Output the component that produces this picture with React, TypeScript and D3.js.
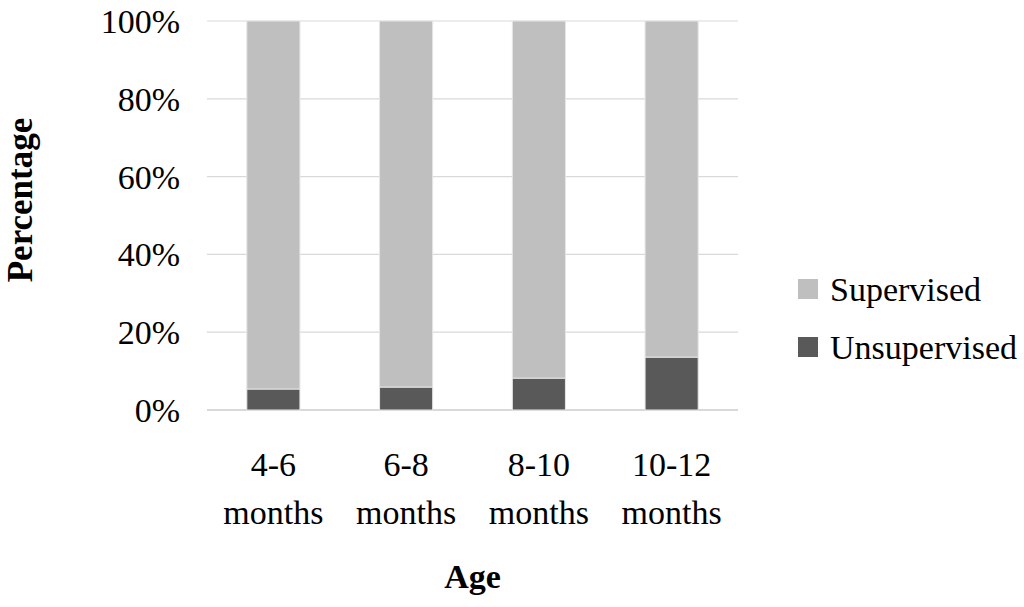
import React from "react";
import * as d3 from "d3";

const ageGroups = ["4-6 months", "6-8 months", "8-10 months", "10-12 months"];
const unsupervised = [5.4, 5.9, 8.2, 13.6];
const supervised = unsupervised.map((u) => 100 - u);
const yTicks = [0, 20, 40, 60, 80, 100];
const seriesNames = ["Supervised", "Unsupervised"];

const colors: Record<string, string> = {
  Supervised: "#bfbfbf",
  Unsupervised: "#595959",
};

const width = 1024;
const height = 607;
const margin = { top: 21, right: 286, bottom: 197, left: 207 };

export default function App() {
  const w = width - margin.left - margin.right;
  const h = height - margin.top - margin.bottom;

  const x = d3.scaleBand<string>().domain(ageGroups).range([0, w]).paddingInner(0.6).paddingOuter(0.3);
  const y = d3.scaleLinear().domain([0, 100]).range([h, 0]);

  const rows = ageGroups.map((g, i) => ({
    group: g,
    Unsupervised: unsupervised[i],
    Supervised: supervised[i],
  }));
  // unsupervised at the bottom, supervised stacked above
  const stack = d3.stack<any>().keys(["Unsupervised", "Supervised"])(rows);

  const font = "'Liberation Serif', 'Times New Roman', serif";

  return (
    <svg
      width={width}
      height={height}
      style={{ position: "absolute", left: 0, top: 0, background: "#fff", fontFamily: font }}
    >
      <g transform={`translate(${margin.left},${margin.top})`}>
        {yTicks.map((t) => (
          <g key={t}>
            <line x1={0} x2={w} y1={y(t)} y2={y(t)} stroke="#d9d9d9" strokeWidth={t === 0 ? 2 : 1.2} />
            <text x={-27} y={y(t)} dy="0.35em" textAnchor="end" fontSize={34} fill="#000">
              {t}%
            </text>
          </g>
        ))}
        {stack.map((layer) => (
          <g key={layer.key} fill={colors[layer.key]}>
            {layer.map((d, i) => (
              <rect
                key={i}
                x={x(ageGroups[i])}
                width={x.bandwidth()}
                y={y(d[1])}
                height={y(d[0]) - y(d[1])}
                stroke="#e6e6e6"
                strokeWidth={1}
              />
            ))}
          </g>
        ))}
        {ageGroups.map((g) => {
          const [a, b] = g.split(" ");
          const cx = (x(g) ?? 0) + x.bandwidth() / 2;
          return (
            <text key={g} x={cx} textAnchor="middle" fontSize={34} fill="#000">
              <tspan x={cx} y={476 - margin.top}>{a}</tspan>
              <tspan x={cx} y={524 - margin.top}>{b}</tspan>
            </text>
          );
        })}
        <text x={w / 2} y={588 - margin.top} textAnchor="middle" fontSize={34} fontWeight="bold" fill="#000">
          Age
        </text>
        <text
          transform={`translate(${32 - margin.left},${200 - margin.top}) rotate(-90)`}
          textAnchor="middle"
          fontSize={35}
          fontWeight="bold"
          fill="#000"
        >
          Percentage
        </text>
      </g>
      <g transform="translate(798,279)">
        {seriesNames.map((s, i) => (
          <g key={s} transform={`translate(0,${i * 58})`}>
            <rect width={20} height={20} fill={colors[s]} />
            <text x={32} y={10} dy="0.35em" fontSize={34} fill="#000">
              {s}
            </text>
          </g>
        ))}
      </g>
    </svg>
  );
}
